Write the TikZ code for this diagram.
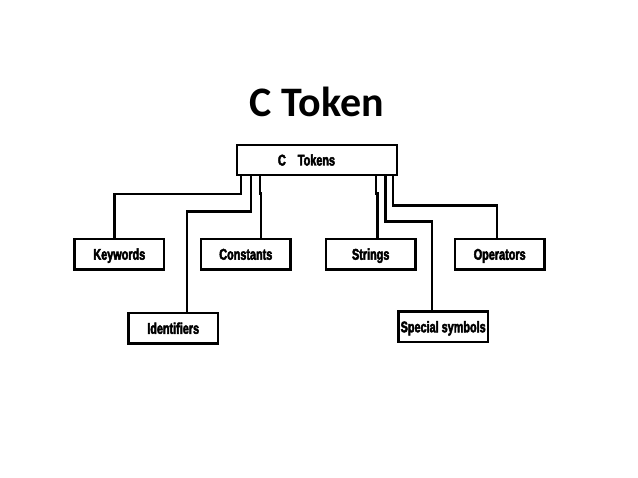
\documentclass[tikz,border=0pt]{standalone}
\usepackage{fontspec}
\setmainfont{Carlito}
\newfontfamily\boxfont{Liberation Sans}[FakeStretch=0.7,FakeBold=3]
\begin{document}
\begin{tikzpicture}[x=1pt,y=-1pt]
  \tikzstyle{boite}=[draw=black, line width=2.4pt, minimum width=89.7pt,
  minimum height=30.3pt, inner sep=0pt, text height=11pt, text depth=0pt,
  font=\boxfont\bfseries\fontsize{15.5}{15.5}\selectfont]
  \tikzstyle{lien}=[line width=2.4pt]
  \useasboundingbox (0,0) rectangle (638,478);
  \node[anchor=base, font=\bfseries\fontsize{42}{42}\selectfont] (titre) at (317,116.7) {C Token};
  \node[boite, minimum width=160pt, text width=160pt, align=left] (tok) at (317,160)
  {\hspace*{41pt}C\hspace{12pt}Tokens};
  \foreach \n/\x/\y/\t in {kw/119.3/254.2/Keywords, cst/245.8/254.2/Constants,
    str/370.7/254.2/Strings, op/499.7/254.2/Operators,
    id/173.2/328.3/Identifiers, sp/443.2/326.8/Special symbols} {
    \node[boite] (\n) at (\x,\y) {\t};
  }
  \foreach \s/\d/\b/\e in {5.3/17.7/kw/-5, 15/35/id/13.8, 24/17/cst/15.2,
    140.3/17/str/6.6, 149.7/45/sp/-11.5, 157/29/op/-3} {
    \draw[lien] ([xshift=\s]tok.south west) -- ++(0,\d) -| ([xshift=\e]\b.north);
  }
\end{tikzpicture}
\end{document}
